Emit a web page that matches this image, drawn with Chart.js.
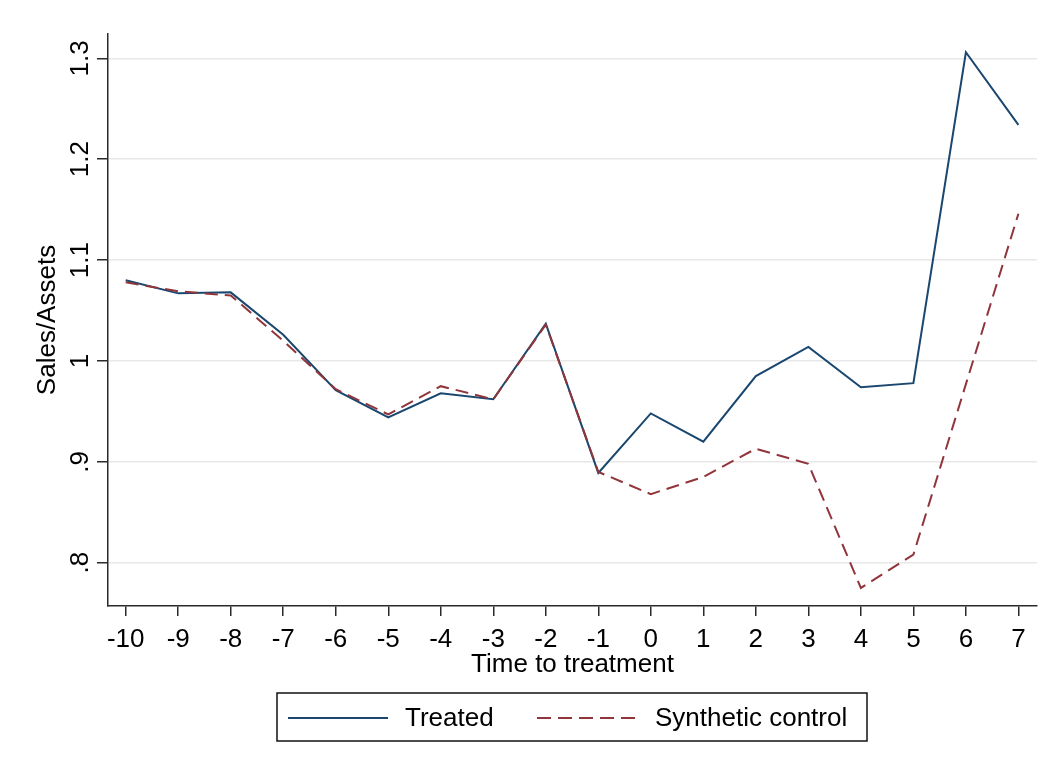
<!DOCTYPE html>
<html>
<head>
<meta charset="utf-8">
<script src="https://cdn.jsdelivr.net/npm/chart.js@4/dist/chart.umd.min.js"></script>
<style>
  html, body { margin: 0; padding: 0; background: #fff; }
  #wrap { width: 1057px; height: 774px; }
</style>
</head>
<body>
<div id="wrap"><canvas id="chart" width="1057" height="774"></canvas></div>
<script>
// Data
const periods = [-10, -9, -8, -7, -6, -5, -4, -3, -2, -1, 0, 1, 2, 3, 4, 5, 6, 7];
const treated = [1.080, 1.067, 1.068, 1.026, 0.971, 0.944, 0.968, 0.962, 1.037, 0.889, 0.948, 0.920, 0.985, 1.014, 0.974, 0.978, 1.306, 1.234];
const synthetic = [1.078, 1.069, 1.065, 1.020, 0.972, 0.947, 0.975, 0.962, 1.036, 0.890, 0.868, 0.885, 0.913, 0.898, 0.775, 0.808, 0.977, 1.146];
const yTickValues = [0.8, 0.9, 1.0, 1.1, 1.2, 1.3];
const yTickLabels = ['.8', '.9', '1', '1.1', '1.2', '1.3'];
const xTickValues = periods;

const FONT = "'Liberation Sans', Arial, sans-serif";
const navy = '#1a476f';
const maroon = '#90353b';
const axisColor = '#2a2a2a';

function toPoints(values) {
  return periods.map((p, i) => ({ x: p, y: values[i] }));
}

// rotated y tick labels, Stata style
const yLabelsPlugin = {
  id: 'yLabels',
  afterDraw(chart) {
    const scale = chart.scales.y;
    const ctx = chart.ctx;
    ctx.save();
    ctx.fillStyle = '#000';
    ctx.font = '26px ' + FONT;
    ctx.textAlign = 'center';
    ctx.textBaseline = 'alphabetic';
    yTickValues.forEach((v, i) => {
      const py = scale.getPixelForValue(v);
      ctx.save();
      ctx.translate(88, py);
      ctx.rotate(-Math.PI / 2);
      ctx.fillText(yTickLabels[i], 0, 0);
      ctx.restore();
    });
    ctx.restore();
  }
};

// boxed legend below the plot
const legendBoxPlugin = {
  id: 'legendBox',
  afterDraw(chart) {
    const ctx = chart.ctx;
    const ds = chart.data.datasets;
    const top = 693, left = 277, w = 590, h = 48;
    const cy = top + h / 2 + 1;
    ctx.save();
    ctx.strokeStyle = '#111';
    ctx.lineWidth = 1.5;
    ctx.strokeRect(left, top, w, h);

    ctx.font = '26px ' + FONT;
    ctx.fillStyle = '#000';
    ctx.textBaseline = 'middle';
    ctx.textAlign = 'left';

    const items = [
      { d: ds[1], x0: 288, x1: 388, tx: 405 },
      { d: ds[0], x0: 537, x1: 638, tx: 655 }
    ];
    items.forEach(it => {
      ctx.beginPath();
      ctx.strokeStyle = it.d.borderColor;
      ctx.lineWidth = 2;
      ctx.setLineDash(it.d.borderDash ? [14, 7] : []);
      ctx.moveTo(it.x0, cy);
      ctx.lineTo(it.x1, cy);
      ctx.stroke();
      ctx.setLineDash([]);
      ctx.fillText(it.d.label, it.tx, cy + 1);
    });
    ctx.restore();
  }
};

new Chart(document.getElementById('chart'), {
  type: 'line',
  data: {
    datasets: [
      {
        label: 'Synthetic control',
        data: toPoints(synthetic),
        borderColor: maroon,
        borderWidth: 2,
        borderDash: [13, 7],
        pointRadius: 0,
        tension: 0,
        order: 1
      },
      {
        label: 'Treated',
        data: toPoints(treated),
        borderColor: navy,
        borderWidth: 2,
        pointRadius: 0,
        tension: 0,
        order: 2
      }
    ]
  },
  options: {
    responsive: false,
    animation: false,
    layout: { padding: { left: 0, top: 34, right: 20, bottom: 84 } },
    plugins: {
      legend: { display: false },
      tooltip: { enabled: false }
    },
    scales: {
      x: {
        type: 'linear',
        min: -10.337,
        max: 7.354,
        afterBuildTicks(scale) {
          scale.ticks = xTickValues.map(v => ({ value: v }));
        },
        afterFit(scale) { scale.height = 84; },
        border: { display: true, color: axisColor, width: 1.5 },
        grid: {
          drawOnChartArea: false,
          drawTicks: true,
          tickLength: 10,
          tickColor: axisColor,
          lineWidth: 1.5
        },
        ticks: {
          color: '#000',
          font: { family: FONT, size: 26 },
          padding: 8,
          maxRotation: 0,
          autoSkip: false,
          callback: v => String(v)
        },
        title: {
          display: true,
          text: 'Time to treatment',
          color: '#000',
          font: { family: FONT, size: 26 },
          padding: { top: 0, bottom: 10 }
        }
      },
      y: {
        type: 'linear',
        min: 0.7571,
        max: 1.3241,
        afterBuildTicks(scale) {
          scale.ticks = yTickValues.map(v => ({ value: v }));
        },
        afterFit(scale) { scale.width = 108; },
        border: { display: true, color: axisColor, width: 1.5 },
        grid: {
          drawOnChartArea: true,
          drawTicks: true,
          tickLength: 11,
          color: '#e8e8e8',
          tickColor: axisColor,
          lineWidth: 1.5
        },
        ticks: { display: false },
        title: {
          display: true,
          text: 'Sales/Assets',
          color: '#000',
          font: { family: FONT, size: 26 },
          padding: { top: 32, bottom: 0 }
        }
      }
    }
  },
  plugins: [yLabelsPlugin, legendBoxPlugin]
});
</script>
</body>
</html>
